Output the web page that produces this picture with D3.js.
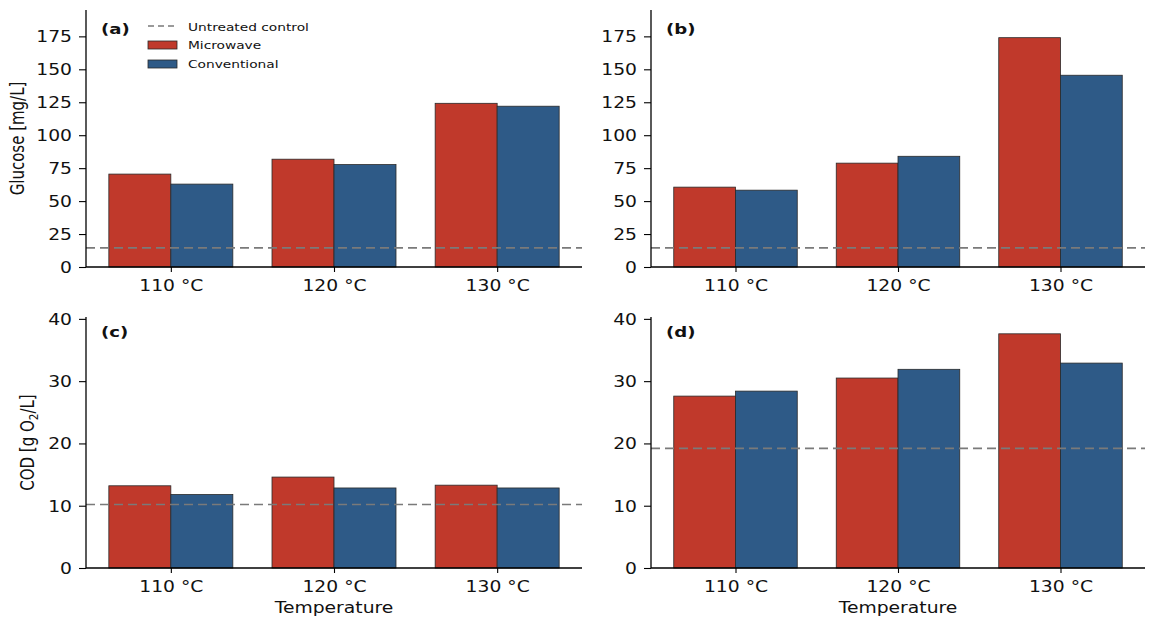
<!DOCTYPE html>
<html>
<head>
<meta charset="utf-8">
<script src="https://cdn.jsdelivr.net/npm/d3@7"></script>
<style>
body { margin: 0; background: #fff; }
text { font-family: "DejaVu Sans", sans-serif; fill: #111; }
</style>
</head>
<body>
<svg id="chart" width="1155" height="626"></svg>
<script>
// data
var categories = ['110 °C', '120 °C', '130 °C'];
var glucoseMicrowaveA = [70.5, 81.8, 124.2];
var glucoseConventionalA = [62.9, 77.7, 122.0];
var glucoseMicrowaveB = [60.6, 78.8, 174.0];
var glucoseConventionalB = [58.3, 84.0, 145.5];
var codMicrowaveC = [13.2, 14.6, 13.3];
var codConventionalC = [11.8, 12.85, 12.85];
var codMicrowaveD = [27.6, 30.5, 37.6];
var codConventionalD = [28.4, 31.9, 32.9];
var controlValues = [14.5, 14.5, 10.2, 19.2];
var glucoseTicks = [0, 25, 50, 75, 100, 125, 150, 175];
var codTicks = [0, 10, 20, 30, 40];
var panelLabels = ['(a)', '(b)', '(c)', '(d)'];

var colors = { microwave: '#c0392b', conventional: '#2e5a87', control: '#7a7a7a' };
var SX = 1.25; // the figure is stretched horizontally
var barWidth = 0.38;

var svg = d3.select('#chart');

var cols = [{ left: 86, right: 582 }, { left: 651, right: 1145 }];
var rows = [
    { top: 10, bottom: 267, max: 195, ticks: glucoseTicks },
    { top: 317, bottom: 568, max: 40.3, ticks: codTicks }
];

var panels = [
    { row: 0, col: 0, micro: glucoseMicrowaveA, conv: glucoseConventionalA },
    { row: 0, col: 1, micro: glucoseMicrowaveB, conv: glucoseConventionalB },
    { row: 1, col: 0, micro: codMicrowaveC, conv: codConventionalC },
    { row: 1, col: 1, micro: codMicrowaveD, conv: codConventionalD }
];

function stretchedText(parent, x, y, str) {
    return parent.append('text')
        .attr('transform', 'translate(' + x + ',' + y + ') scale(' + SX + ',1)')
        .text(str);
}

panels.forEach(function(p, k) {
    var r = rows[p.row], c = cols[p.col];
    var x = d3.scaleLinear().domain([-0.52, 2.52]).range([c.left, c.right]);
    var y = d3.scaleLinear().domain([0, r.max]).range([r.bottom, r.top]);
    var g = svg.append('g').attr('class', 'panel');

    // bars
    var idx = d3.range(categories.length);
    g.selectAll('rect.micro').data(idx).enter().append('rect')
        .attr('class', 'micro')
        .attr('x', function(i) { return x(i - barWidth); })
        .attr('width', function(i) { return x(i) - x(i - barWidth); })
        .attr('y', function(i) { return y(p.micro[i]); })
        .attr('height', function(i) { return y(0) - y(p.micro[i]); })
        .attr('fill', colors.microwave)
        .attr('stroke', '#2a2a2a')
        .attr('stroke-width', 0.8);
    g.selectAll('rect.conv').data(idx).enter().append('rect')
        .attr('class', 'conv')
        .attr('x', function(i) { return x(i); })
        .attr('width', function(i) { return x(i + barWidth) - x(i); })
        .attr('y', function(i) { return y(p.conv[i]); })
        .attr('height', function(i) { return y(0) - y(p.conv[i]); })
        .attr('fill', colors.conventional)
        .attr('stroke', '#2a2a2a')
        .attr('stroke-width', 0.8);

    // control line
    g.append('line')
        .attr('x1', c.left).attr('x2', c.right)
        .attr('y1', y(controlValues[k])).attr('y2', y(controlValues[k]))
        .attr('stroke', colors.control)
        .attr('stroke-width', 1.6)
        .attr('stroke-dasharray', '9,5');

    // y axis
    var yAxis = g.append('g')
        .attr('transform', 'translate(' + c.left + ',0)')
        .call(d3.axisLeft(y).tickValues(r.ticks).tickSize(7).tickPadding(0));
    yAxis.select('.domain').attr('d', 'M0,' + r.top + 'V' + r.bottom).attr('stroke', '#000').attr('stroke-width', 1.3);
    yAxis.selectAll('.tick line').attr('stroke', '#000').attr('stroke-width', 1.1);
    yAxis.selectAll('.tick text')
        .attr('x', 0).attr('dy', '0.36em')
        .attr('transform', 'translate(-14,0) scale(' + SX + ',1)')
        .attr('font-size', 15).attr('fill', '#111')
        .attr('font-family', '"DejaVu Sans", sans-serif');

    // x axis
    var xAxis = g.append('g')
        .attr('transform', 'translate(0,' + r.bottom + ')')
        .call(d3.axisBottom(x).tickValues(idx).tickFormat(function(i) { return categories[i]; }).tickSize(5).tickPadding(0));
    xAxis.select('.domain').attr('d', 'M' + c.left + ',0H' + c.right).attr('stroke', '#000').attr('stroke-width', 1.3);
    xAxis.selectAll('.tick line').attr('stroke', '#000').attr('stroke-width', 1.1);
    xAxis.selectAll('.tick text')
        .attr('y', 0).attr('dy', 0)
        .attr('transform', 'translate(0,23.5) scale(' + SX + ',1)')
        .attr('font-size', 15).attr('fill', '#111')
        .attr('font-family', '"DejaVu Sans", sans-serif');

    // panel label
    stretchedText(g, c.left + 15, r.top + (p.row === 0 ? 24 : 20), panelLabels[k])
        .attr('font-size', 14.5)
        .attr('font-weight', 'bold');

    if (p.row === 1) {
        stretchedText(g, (c.left + c.right) / 2, 613, 'Temperature')
            .attr('font-size', 15)
            .attr('text-anchor', 'middle');
    }
});

// y labels
svg.append('text')
    .attr('transform', 'translate(24,' + (rows[0].top + rows[0].bottom) / 2 + ') scale(' + SX + ',1) rotate(-90)')
    .attr('text-anchor', 'middle')
    .attr('font-size', 15)
    .text('Glucose [mg/L]');

var cl = svg.append('text')
    .attr('transform', 'translate(34,' + (rows[1].top + rows[1].bottom) / 2 + ') scale(' + SX + ',1) rotate(-90)')
    .attr('text-anchor', 'middle')
    .attr('font-size', 15);
cl.append('tspan').text('COD [g O');
cl.append('tspan').attr('font-size', 10.5).attr('dy', 3).text('2');
cl.append('tspan').attr('dy', -3).text('/L]');

// legend
var legend = svg.append('g').attr('class', 'legend');
legend.append('line')
    .attr('x1', 148).attr('x2', 177).attr('y1', 26).attr('y2', 26)
    .attr('stroke', colors.control).attr('stroke-width', 1.6).attr('stroke-dasharray', '6,4');
legend.append('rect')
    .attr('x', 148).attr('y', 41).attr('width', 29).attr('height', 8)
    .attr('fill', colors.microwave).attr('stroke', '#2a2a2a').attr('stroke-width', 0.8);
legend.append('rect')
    .attr('x', 148).attr('y', 60).attr('width', 29).attr('height', 8)
    .attr('fill', colors.conventional).attr('stroke', '#2a2a2a').attr('stroke-width', 0.8);
stretchedText(legend, 188, 30.5, 'Untreated control').attr('font-size', 11);
stretchedText(legend, 188, 49, 'Microwave').attr('font-size', 11);
stretchedText(legend, 188, 67.5, 'Conventional').attr('font-size', 11);
</script>
</body>
</html>
